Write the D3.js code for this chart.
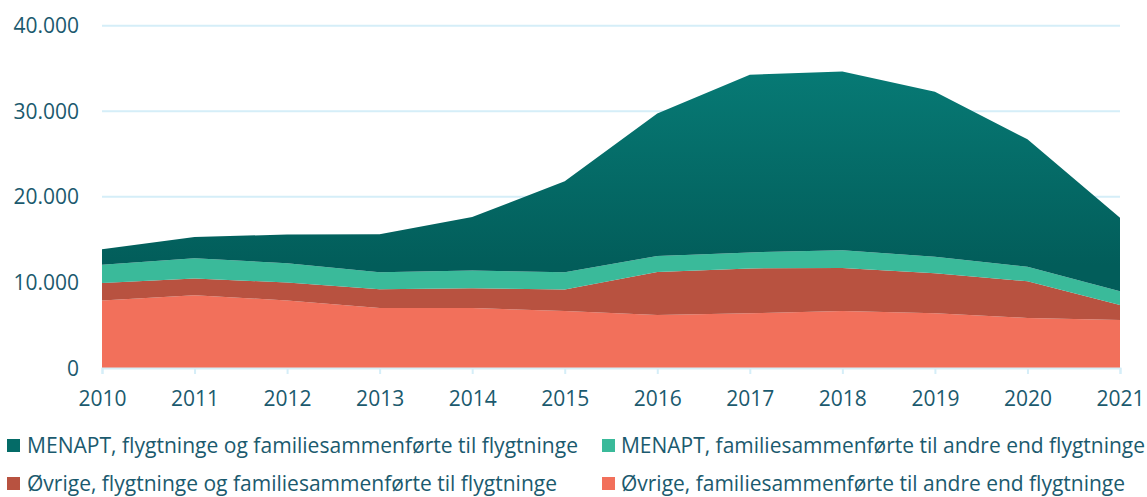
<!DOCTYPE html>
<html>
<head>
<meta charset="utf-8">
<script src="https://cdn.jsdelivr.net/npm/d3@7"></script>
<style>
  body { margin: 0; background: #fff; }
  text { font-family: "Open Sans", sans-serif; fill: #1b5a6e; }
</style>
</head>
<body>
<script>
const years = [2010, 2011, 2012, 2013, 2014, 2015, 2016, 2017, 2018, 2019, 2020, 2021];
// bottom to top stacking order
const ovrigeFamilie = [7900, 8500, 7900, 7000, 7000, 6650, 6200, 6400, 6650, 6400, 5850, 5600];
const ovrigeFlygt = [2020, 1950, 2100, 2210, 2330, 2520, 5010, 5240, 5050, 4660, 4280, 1750];
const menaptFamilie = [2140, 2370, 2250, 1990, 2060, 2030, 1870, 1870, 2060, 1940, 1710, 1630];
const menaptFlygt = [1820, 2480, 3350, 4430, 6260, 10610, 16670, 20760, 20880, 19290, 14880, 8590];
const yTicks = [0, 10000, 20000, 30000, 40000];

const seriesNames = [
  'Øvrige, familiesammenførte til andre end flygtninge',
  'Øvrige, flygtninge og familiesammenførte til flygtninge',
  'MENAPT, familiesammenførte til andre end flygtninge',
  'MENAPT, flygtninge og familiesammenførte til flygtninge'
];
const keys = ['of', 'ofl', 'mf', 'mfl'];
const colors = ['#f2705b', '#b85240', '#3aba9a', 'url(#tealGrad)'];

const width = 1147, height = 497;
const x0 = 102, x1 = 1120, yBase = 368, yTop = 25.7;

const rows = years.map((yr, i) => ({
  year: yr, of: ovrigeFamilie[i], ofl: ovrigeFlygt[i], mf: menaptFamilie[i], mfl: menaptFlygt[i]
}));

const x = d3.scaleLinear().domain([2010, 2021]).range([x0, x1]);
const y = d3.scaleLinear().domain([0, 40000]).range([yBase, yTop]);

const svg = d3.select('body').append('svg').attr('width', width).attr('height', height);

const defs = svg.append('defs');
const grad = defs.append('linearGradient').attr('id', 'tealGrad')
  .attr('gradientUnits', 'userSpaceOnUse')
  .attr('x1', 0).attr('x2', 0).attr('y1', y(35000)).attr('y2', y(12000));
grad.append('stop').attr('offset', 0).attr('stop-color', '#077a75');
grad.append('stop').attr('offset', 1).attr('stop-color', '#025d5a');

// gridlines
svg.append('g').selectAll('line')
  .data(yTicks.slice(1))
  .join('line')
  .attr('x1', x0).attr('x2', x1)
  .attr('y1', d => y(d)).attr('y2', d => y(d))
  .attr('stroke', '#d5eef8').attr('stroke-width', 2);

const stacked = d3.stack().keys(keys)(rows);
const area = d3.area()
  .x(d => x(d.data.year))
  .y0(d => y(d[0]))
  .y1(d => y(d[1]));

svg.append('g').selectAll('path')
  .data(stacked)
  .join('path')
  .attr('d', area)
  .attr('fill', (d, i) => colors[i]);

// x axis
const xAxis = svg.append('g').attr('transform', `translate(0,${yBase})`)
  .call(d3.axisBottom(x).tickValues(years).tickFormat(d3.format('d')).tickSize(6).tickPadding(17));
xAxis.select('.domain').attr('stroke', '#d5eef8').attr('stroke-width', 2);
xAxis.selectAll('.tick line').attr('stroke', '#d5eef8').attr('stroke-width', 2);
xAxis.selectAll('.tick text')
  .attr('font-size', 21)
  .attr('font-family', '"Open Sans", sans-serif')
  .attr('fill', '#1b5a6e');

// y axis labels
const fmt = v => v === 0 ? '0' : d3.format(',')(v).replace(/,/g, '.');
svg.append('g').selectAll('text')
  .data(yTicks)
  .join('text')
  .attr('x', 79).attr('y', d => y(d))
  .attr('dy', '0.36em')
  .attr('text-anchor', 'end')
  .attr('font-size', 21)
  .text(fmt);

// legend
const legendItems = [
  { name: seriesNames[3], color: '#046b67', sx: 7, tx: 27, ty: 453, w: 551 },
  { name: seriesNames[2], color: '#3aba9a', sx: 602, tx: 621, ty: 453, w: 524 },
  { name: seriesNames[1], color: '#b85240', sx: 7, tx: 27, ty: 491, w: 530 },
  { name: seriesNames[0], color: '#f2705b', sx: 602, tx: 621, ty: 491, w: 504 }
];
const lg = svg.append('g');
lg.selectAll('rect')
  .data(legendItems)
  .join('rect')
  .attr('x', d => d.sx).attr('y', d => d.ty - 14)
  .attr('width', 13).attr('height', 13)
  .attr('fill', d => d.color);
lg.selectAll('text')
  .data(legendItems)
  .join('text')
  .attr('x', d => d.tx).attr('y', d => d.ty)
  .attr('font-size', 21)
  .attr('textLength', d => d.w)
  .attr('lengthAdjust', 'spacingAndGlyphs')
  .text(d => d.name);
</script>
</body>
</html>
